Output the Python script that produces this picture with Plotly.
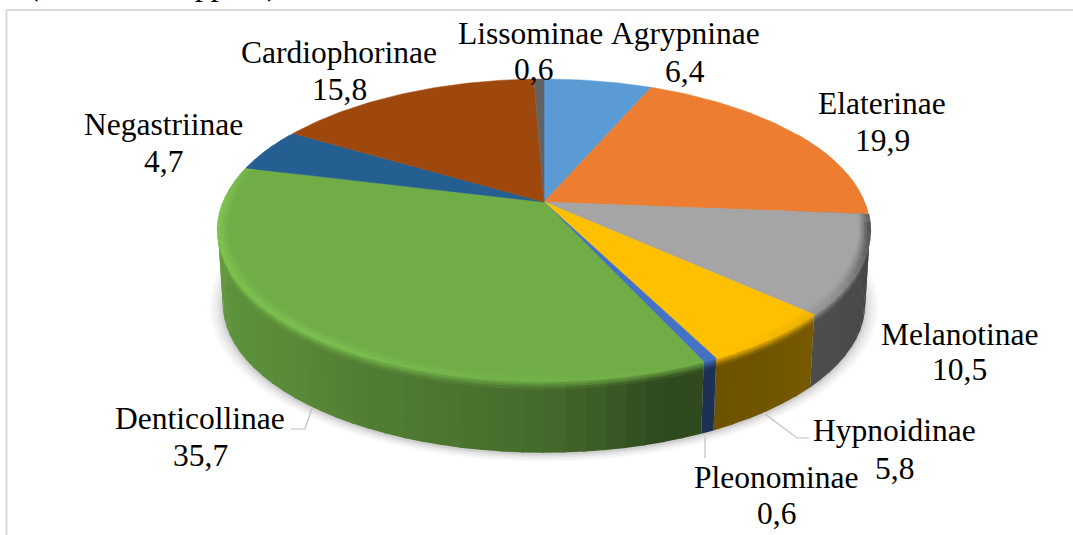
import numpy as np
import plotly.graph_objects as go

# ---- data ----
categories = ["Agrypninae", "Elaterinae", "Melanotinae", "Hypnoidinae", "Pleonominae",
              "Denticollinae", "Negastriinae", "Cardiophorinae", "Lissominae"]
values = [6.4, 19.9, 10.5, 5.8, 0.6, 35.7, 4.7, 15.8, 0.6]
colors = ["#5b9bd5", "#ed7d31", "#a5a5a5", "#ffc000", "#4472c4",
          "#70ad47", "#255e91", "#9e480e", "#636363"]
name_x = [685, 882, 959, 894, 776, 200, 163, 339, 530]
name_y = [33, 103, 334, 430, 477, 418, 124, 52, 33]
value_x = [685, 882, 959, 894, 776, 200, 163, 339, 533]
value_y = [71, 140, 369, 468, 513, 455, 161, 89, 69]

# ---- projection of the tilted disc ----
CX, CY, A, B, K = 544.0, 202.0, 320.5, 145.8, 0.185
DEPTH, BOTTOM_SCALE = 74.0, 0.985


def project(theta_deg, r=1.0, scale=1.0, dy=0.0):
    t = np.radians(np.asarray(theta_deg, dtype=float))
    u, v = r * np.sin(t), r * np.cos(t)
    d = 1 + K * v
    return CX + scale * A * u / d, CY + dy + scale * B * (-v) / d


def rgb(hex_c):
    return np.array([int(hex_c[i:i + 2], 16) for i in (1, 3, 5)], dtype=float)


def css(c):
    c = np.clip(np.round(c), 0, 255).astype(int)
    return f"rgb({c[0]},{c[1]},{c[2]})"


def side_mult(th):
    return np.interp(th, [60, 95, 105, 130, 150, 162, 180, 225, 270, 300],
                     [.36, .36, .42, .47, .43, .42, .62, .80, .90, .90])


def rim_gain(th):
    # >0 lit rim (left), <0 shaded rim (right)
    return np.interp(th, [94, 97, 108, 125, 150, 185, 215, 270, 280, 300],
                     [0, -.5, -.4, -.12, 0, .03, .10, .12, .06, 0])


fig = go.Figure()


def add_poly(color, xs, ys, width=0.0):
    fig.add_trace(go.Scatter(x=list(xs) + [xs[0]], y=list(ys) + [ys[0]], mode="lines", fill="toself",
                             fillcolor=color, line=dict(color=color, width=width),
                             hoverinfo="skip", showlegend=False))


# soft shadow below the disc
for s, a in [(1.042, .03), (1.034, .035), (1.026, .045), (1.018, .055), (1.010, .07), (1.004, .08)]:
    th = np.linspace(0, 360, 241)
    x, y = project(th, scale=BOTTOM_SCALE * s, dy=DEPTH + 2)
    fig.add_trace(go.Scatter(x=x, y=y, mode="lines", fill="toself", fillcolor=f"rgba(90,90,90,{a})",
                             line=dict(width=0), hoverinfo="skip", showlegend=False))

cum = np.concatenate([[0], np.cumsum(values)]) / np.sum(values) * 360.0

# side wall: each slice painted as a stack of bands, upper bands blend out of the rim
SIDE_T = [0, .03, .06, .09, .13, 1]
for i, col in enumerate(colors):
    lo, hi = max(cum[i], 60), min(cum[i + 1], 300)
    if hi <= lo:
        continue
    n = max(1, int((hi - lo) / 3.0))
    base = rgb(col)
    edges = np.linspace(lo, hi, n + 1)
    for k_, (e0, e1) in enumerate(zip(edges[:-1], edges[1:])):
        mid = (e0 + e1) / 2
        m = side_mult(mid)
        g = rim_gain(mid)
        rim = base * (1 + g)
        dark = base * m
        e1x = e1 + 0.35 if k_ < n - 1 else e1
        for j in range(len(SIDE_T) - 1):
            t0, t1 = SIDE_T[j], SIDE_T[j + 1]
            f = min(1, (t0 + t1) / 2 / .13)
            c = rim * (1 - f) + dark * f
            s0, s1 = 1 + (BOTTOM_SCALE - 1) * t0, 1 + (BOTTOM_SCALE - 1) * t1
            arc = np.linspace(e0, e1x, 3)
            xa, ya = project(arc, scale=s0, dy=DEPTH * t0 - 0.6)
            xb, yb = project(arc[::-1], scale=s1, dy=DEPTH * t1 + 0.6)
            add_poly(css(c), list(xa) + list(xb), list(ya) + list(yb))

# top faces
for i, col in enumerate(colors):
    th = np.linspace(cum[i], cum[i + 1], max(3, int(values[i] * 4)))
    x, y = project(th)
    fig.add_trace(go.Scatter(x=[CX] + list(x) + [CX], y=[CY] + list(y) + [CY], mode="lines",
                             fill="toself", fillcolor=col, line=dict(color=col, width=0.5),
                             name=categories[i], hoverinfo="skip", showlegend=False))

# rim bevel on the near half of the top face
RADII = [.968, .976, .984, .992, 1.003]
WEIGHT = [.15, .45, .75, 1.0]
for i, col in enumerate(colors):
    lo, hi = max(cum[i], 94), min(cum[i + 1], 295)
    if hi - lo < 1:
        continue
    n = max(1, int((hi - lo) / 3.0))
    base = rgb(col)
    edges = np.linspace(lo, hi, n + 1)
    for k_, (e0, e1) in enumerate(zip(edges[:-1], edges[1:])):
        g = rim_gain((e0 + e1) / 2)
        e1x = e1 + 0.35 if k_ < n - 1 else e1
        for j in range(len(RADII) - 1):
            c = base * (1 + g * WEIGHT[j])
            arc = np.linspace(e0, e1x, 3)
            xa, ya = project(arc, r=RADII[j] - 0.001)
            xb, yb = project(arc[::-1], r=RADII[j + 1])
            add_poly(css(c), list(xa) + list(xb), list(ya) + list(yb))

# labels
FONT = dict(family="Liberation Serif", size=31.5, color="#000000")
anns = []
for name, v, nx, ny, vx, vy in zip(categories, values, name_x, name_y, value_x, value_y):
    anns.append(dict(x=nx, y=ny, xref="x", yref="y", showarrow=False, text=name, font=FONT,
                     xanchor="center", yanchor="middle"))
    anns.append(dict(x=vx, y=vy, xref="x", yref="y", showarrow=False,
                     text=f"{v:.1f}".replace(".", ","), font=FONT,
                     xanchor="center", yanchor="middle"))
# cut-off caption fragments at the very top of the page
for txt, tx in [("(", 33), ("pp", 211), (")", 272)]:
    anns.append(dict(x=tx, y=4, xref="x", yref="y", showarrow=False, text=txt, font=FONT,
                     xanchor="center", yanchor="bottom"))

LEADER = "#bfbfbf"
shapes = [
    dict(type="line", x0=6.5, x1=6.5, y0=10, y1=540, xref="x", yref="y", line=dict(color="#d9d9d9", width=2)),
    dict(type="line", x0=6.5, x1=1080, y0=10, y1=10, xref="x", yref="y", line=dict(color="#d9d9d9", width=2)),
    dict(type="path", path="M 312 408 L 305 429 L 291 429", xref="x", yref="y", line=dict(color=LEADER, width=1.2)),
    dict(type="path", path="M 765 414 L 797 438 L 809 438", xref="x", yref="y", line=dict(color=LEADER, width=1.2)),
    dict(type="line", x0=705, x1=705, y0=437, y1=458, xref="x", yref="y", line=dict(color=LEADER, width=1.2)),
]

fig.update_layout(
    width=1073, height=535, margin=dict(l=0, r=0, t=0, b=0),
    paper_bgcolor="#ffffff", plot_bgcolor="#ffffff", showlegend=False,
    xaxis=dict(range=[0, 1073], visible=False, fixedrange=True),
    yaxis=dict(range=[535, 0], visible=False, fixedrange=True),
    annotations=anns, shapes=shapes,
)
fig.write_html("out.html", config={"displayModeBar": False},
               post_script="document.body.style.margin='0';document.body.style.overflow='hidden';")
